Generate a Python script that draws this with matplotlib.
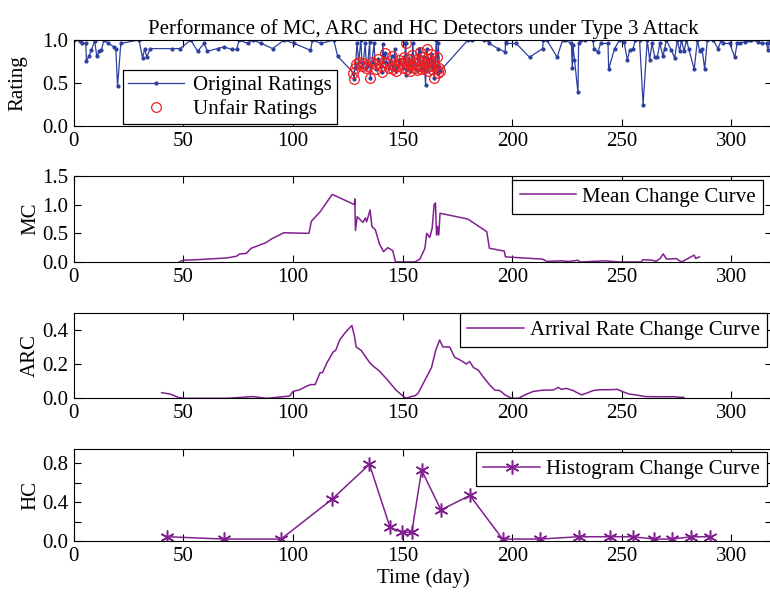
import numpy as np
import matplotlib
matplotlib.use("Agg")
import matplotlib.pyplot as plt
from matplotlib.ticker import MultipleLocator, FixedLocator

plt.rcParams['font.family'] = ['Liberation Serif', 'DejaVu Serif']
plt.rcParams['font.size'] = 15

# fair ratings (day, value)
fair_days = [0.1, 2.9, 4, 5.5, 5.8, 7, 8, 9.6, 10.5, 11.6, 12.6, 13.8, 15.8, 18.4, 19.2, 20, 21.5,
             29.8, 31.4, 32.4, 33.3, 34.9, 45, 48.5, 53.4, 56.5, 59.5, 61, 65.6, 68.6, 72.1, 74.3,
             75.5, 79.3, 81.6, 85.6, 90.7, 96, 100.6, 108, 108.9, 112.8, 118.6, 120.4,
             129.2, 131, 133, 135, 137, 141, 146.5, 151.3, 151.7, 154.6, 157.4, 160.5, 165.3, 166.3,
             179.8, 181.6, 187, 189, 189.6, 193.5, 196.8, 197, 197.3, 201.8, 207.9, 213.9, 214.2,
             215.8, 220.5, 223, 223.9, 227, 227.4, 227.7, 228.4, 230, 230.3, 231.5, 233, 236.8,
             237.3, 239.1, 240.3, 243.7, 244, 246.7, 249, 251, 252.5, 253.6, 255.1, 256.2, 258.1,
             259.7, 261.6, 262.7, 263.8, 265, 266.2, 267.3, 268.8, 269.5, 270.3, 272.6, 274.1,
             275.3, 276.4, 277.2, 278.4, 279.5, 280.5, 283, 284.5, 285.5, 286.6, 287.8, 289,
             291.6, 293.9, 295.4, 296.2, 299.2, 301.5, 302.6, 303.8, 306, 306.8, 307.5, 308.3,
             309, 312.2, 314, 316, 316.7, 317.5]
fair_vals = [1.0, 0.99, 0.96, 0.96, 0.76, 0.81, 0.88, 0.99, 0.81, 0.87, 0.88, 1.0, 0.96, 0.92, 0.90,
             0.46, 0.96, 1.0, 0.79, 0.90, 0.80, 0.90, 0.90, 0.90, 1.0, 0.87, 0.96, 0.87, 0.90, 0.92,
             0.89, 0.89, 1.0, 0.96, 1.0, 0.96, 0.90, 1.0, 0.96, 0.88, 1.0, 0.96, 1.0, 0.81,
             0.96, 1.0, 0.96, 0.98, 0.96, 0.95, 0.90, 0.96, 0.59, 0.96, 0.90, 0.48, 1.0, 0.96,
             1.0, 1.0, 1.0, 1.0, 0.96, 0.90, 0.86, 1.0, 0.96, 0.96, 0.80, 0.90, 1.0,
             1.0, 0.80, 1.0, 1.0, 0.96, 0.67, 0.94, 0.77, 0.39, 0.96, 1.0, 1.0, 1.0,
             0.90, 0.86, 0.96, 0.96, 0.66, 0.90, 1.0, 0.98, 0.77, 0.88, 0.90, 1.0, 1.0,
             0.25, 1.0, 0.77, 0.96, 0.80, 0.80, 0.96, 0.81, 0.90, 1.0, 0.88, 0.79,
             1.0, 0.87, 1.0, 0.87, 1.0, 0.90, 0.66, 1.0, 0.87, 0.90, 0.66, 1.0,
             1.0, 0.90, 1.0, 0.96, 0.96, 0.80, 0.96, 0.96, 0.98, 1.0, 1.0, 1.0,
             1.0, 0.98, 0.96, 0.96, 0.88, 0.98]

# unfair ratings
unfair_days = [127.5, 127.8, 128.2, 128.6, 130, 131.5, 132, 133.5, 134, 135.3, 136, 137.5, 138,
               139, 140, 140.5, 141.5, 142, 143, 144, 145, 145.5, 146, 147, 148, 148.5, 149,
               150, 150.5, 151, 151.5, 152, 152.5, 153, 153.5, 154, 154.5, 155, 155.5, 156,
               156.5, 157, 157.8, 158, 158.5, 159, 159.5, 160, 160.8, 161, 161.5, 162, 162.5,
               163, 163.5, 164, 164.5, 165, 165.8, 166, 166.8, 167.2]
unfair_vals = [0.62, 0.55, 0.68, 0.72, 0.75, 0.70, 0.73, 0.68, 0.70, 0.56, 0.74, 0.72, 0.66,
               0.78, 0.70, 0.63, 0.75, 0.85, 0.73, 0.68, 0.81, 0.66, 0.70, 0.64, 0.70, 0.77, 0.73,
               0.68, 0.80, 0.74, 0.96, 0.66, 0.72, 0.78, 0.64, 0.70, 0.83, 0.74, 0.67, 0.72,
               0.65, 0.78, 0.70, 0.86, 0.66, 0.74, 0.80, 0.68, 0.75, 0.90, 0.64, 0.78, 0.70,
               0.84, 0.66, 0.76, 0.56, 0.70, 0.80, 0.62, 0.68, 0.64]

# mean change curve
mc_days = [48.1, 49.9, 56, 65.1, 69.7, 74.2, 75.7, 78.7, 81, 87.8, 90.1, 95.8, 107.3, 108.4, 112.5,
           117.9, 128.1, 128.2, 128.5, 129.3, 131.9, 133.1, 133.6, 135.2, 136, 137.6, 139.4,
           141.3, 143.2, 145.5, 146.8, 155.6, 157.9, 160.2, 161, 162.4, 163.5, 164.4, 165,
           165.5, 165.9, 166.5, 167.1, 179.7, 188.4, 189.6, 196.4, 196.9, 213.9, 215.8, 222,
           226, 230, 231, 242.3, 249, 258.9, 259.6, 264, 265.5, 267.4, 268.9, 270.4, 274.9,
           277.2, 283, 283.7, 285.4]
mc_vals = [0.0, 0.03, 0.04, 0.06, 0.07, 0.10, 0.14, 0.15, 0.24, 0.34, 0.40, 0.51, 0.50, 0.71, 0.88,
           1.18, 1.0, 1.1, 0.55, 0.79, 0.69, 0.77, 0.70, 0.91, 0.62, 0.56, 0.32,
           0.18, 0.25, 0.20, 0.0, 0.0, 0.05, 0.24, 0.50, 0.43, 0.59, 1.0, 1.03,
           0.47, 0.62, 0.47, 0.85, 0.75, 0.53, 0.24, 0.19, 0.09, 0.05, 0.01, 0.02,
           0.01, 0.03, 0.0, 0.02, 0.0, 0.0, 0.04, 0.03, 0.01, 0.06, 0.14, 0.05, 0.06,
           0.0, 0.12, 0.06, 0.09]

# arrival rate change curve
arc_days = [40.1, 43.9, 45.5, 47.7, 50, 69.8, 81.9, 88, 98.5, 100, 103.1, 106.1, 108, 110.1, 112.4,
            113.5, 115.2, 118.3, 119.5, 121.3, 123.6, 125, 126.9, 128.1, 128.8, 131.1, 134.9,
            136.4, 139.4, 143.2, 147, 150, 151.6, 153.9, 155.7, 157.1, 160.2, 163.2, 165.1,
            166.9, 168.4, 171.5, 173.7, 176.8, 179.1, 180.6, 182.3, 184.5, 186.8, 189.8, 192.1,
            194.4, 196.7, 199.8, 202.8, 205.8, 209.6, 214.1, 218.7, 221, 222.5, 224.8, 227.8,
            231.6, 233.9, 236.9, 240, 243.7, 248, 250.2, 253.2, 256.3, 260.8, 266.9, 273, 278.3]
arc_vals = [0.033, 0.025, 0.017, 0.005, 0.0, 0.0, 0.01, 0.0, 0.013, 0.04, 0.05, 0.07, 0.08, 0.08,
            0.15, 0.15, 0.20, 0.27, 0.28, 0.34, 0.38, 0.40, 0.425, 0.36, 0.30, 0.28, 0.21,
            0.19, 0.16, 0.106, 0.048, 0.015, 0.0, 0.01, 0.015, 0.03, 0.106, 0.18, 0.28,
            0.34, 0.30, 0.30, 0.24, 0.22, 0.20, 0.215, 0.18, 0.165, 0.125, 0.077, 0.048,
            0.045, 0.02, 0.0, 0.0, 0.02, 0.04, 0.048, 0.048, 0.064, 0.052, 0.058, 0.045,
            0.02, 0.03, 0.045, 0.05, 0.05, 0.052, 0.04, 0.025, 0.02, 0.01, 0.009, 0.009, 0.005]

# histogram change curve
hc_days = [42.6, 68.4, 94.6, 117.8, 134.9, 144.3, 149.7, 154.2, 158.7, 167.5, 180.7, 195.6,
           212.6, 230.4, 244.5, 255.1, 264.6, 273.1, 281.7, 290]
hc_vals = [0.044, 0.02, 0.02, 0.43, 0.79, 0.14, 0.09, 0.09, 0.73, 0.32, 0.47, 0.02,
           0.02, 0.044, 0.044, 0.044, 0.02, 0.02, 0.044, 0.044]

blue = '#2e3fa0'
purple = '#80208f'
red = '#ee2020'

all_days = np.array(fair_days + unfair_days)
all_vals = np.array(fair_vals + unfair_vals)
order = np.argsort(all_days)

W, H = 770, 594
fig = plt.figure(figsize=(W / 100, H / 100), dpi=100)

left = 73.7
right = 772

def make_ax(top, bottom):
    ax = fig.add_axes([left / W, 1 - bottom / H, (right - left) / W, (bottom - top) / H])
    ax.set_xlim(0, 318.5)
    ax.xaxis.set_major_locator(MultipleLocator(50))
    ax.tick_params(direction='in', top=True, right=True, length=5, width=0.8, labelsize=15, pad=4)
    ax.tick_params(which='minor', direction='in', top=True, right=True, length=5, width=0.8)
    for s in ax.spines.values():
        s.set_linewidth(0.8)
    return ax

def boxed_legend(ax, **kw):
    leg = ax.legend(borderaxespad=0, fancybox=False, edgecolor='black', fontsize=15,
                    handlelength=2.7, framealpha=1, **kw)
    leg.get_frame().set_linewidth(0.9)
    return leg

# panel 1: ratings
ax1 = make_ax(40, 126)
ax1.plot(all_days[order], all_vals[order], '-', color=blue, lw=0.9, marker='.', ms=4,
         label='Original Ratings')
ax1.plot(unfair_days, unfair_vals, 'o', mfc='none', mec=red, ms=7, mew=0.9, ls='none',
         label='Unfair Ratings')
ax1.set_ylim(0, 1)
ax1.set_yticks([0, 0.5, 1.0])
ax1.set_yticklabels(['0.0', '0.5', '1.0'])
ax1.set_ylabel('Rating', fontsize=15)
ax1.set_title('Performance of MC, ARC and HC Detectors under Type 3 Attack', fontsize=15, pad=4)
boxed_legend(ax1, loc='lower left', bbox_to_anchor=(0.0706, 0.02), borderpad=0.25,
             labelspacing=0.2, handletextpad=0.4)

# panel 2: MC
ax2 = make_ax(176, 262)
ax2.plot(mc_days, mc_vals, color=purple, lw=1.1, label='Mean Change Curve')
ax2.set_ylim(0, 1.5)
ax2.set_yticks([0, 0.5, 1.0, 1.5])
ax2.set_yticklabels(['0.0', '0.5', '1.0', '1.5'])
ax2.set_ylabel('MC', fontsize=15)
boxed_legend(ax2, loc='upper right', bbox_to_anchor=(0.987, 0.955), borderpad=0.35,
             handletextpad=0.3)

# panel 3: ARC
ax3 = make_ax(312.7, 398.3)
ax3.plot(arc_days, arc_vals, color=purple, lw=1.1, label='Arrival Rate Change Curve')
ax3.set_ylim(0, 0.5)
ax3.set_yticks([0, 0.2, 0.4])
ax3.set_yticklabels(['0.0', '0.2', '0.4'])
ax3.set_ylabel('ARC', fontsize=15)
boxed_legend(ax3, loc='upper right', bbox_to_anchor=(0.993, 0.995), borderpad=0.35,
             handletextpad=0.3)

# panel 4: HC
ax4 = make_ax(449.3, 541)
ax4.plot(hc_days, hc_vals, color=purple, lw=1.1, marker=(6, 2, 0), ms=10, mew=1.1,
         label='Histogram Change Curve')
ax4.set_ylim(0, 0.945)
ax4.set_yticks([0, 0.4, 0.8])
ax4.set_yticklabels(['0.0', '0.4', '0.8'])
ax4.yaxis.set_minor_locator(FixedLocator([0.2, 0.6]))
ax4.set_ylabel('HC', fontsize=15)
ax4.set_xlabel('Time (day)', fontsize=15, labelpad=2)
boxed_legend(ax4, loc='upper right', bbox_to_anchor=(0.993, 0.97), borderpad=0.35,
             handletextpad=0.3)

# label positions
ax1.yaxis.set_label_coords(-0.066, 0.5)
for ax in [ax2, ax3, ax4]:
    ax.yaxis.set_label_coords(-0.048, 0.5)

fig.savefig('out.png', dpi=100)
